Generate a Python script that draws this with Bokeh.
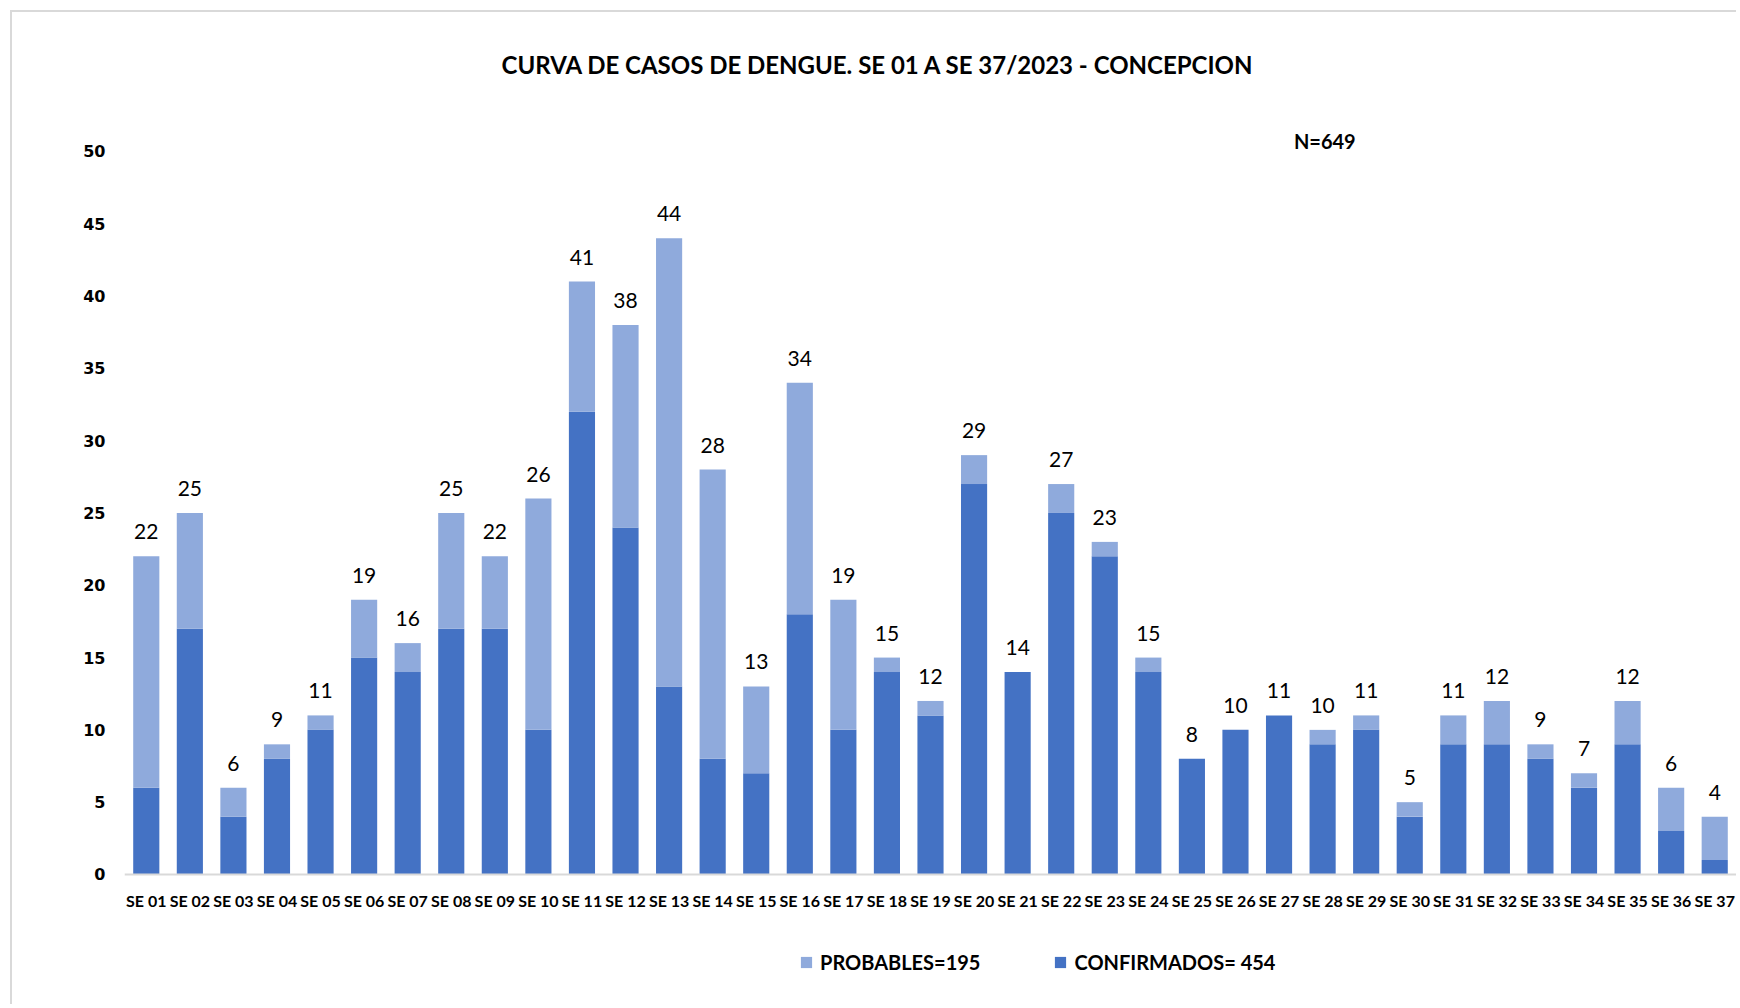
from bokeh.plotting import figure
from bokeh.models import (FactorRange, Range1d, Legend, LegendItem, Label,
                          ColumnDataSource, FixedTicker, Span)
from bokeh.core.properties import value
from bokeh.embed import file_html
from bokeh.resources import INLINE

weeks = ["SE 01", "SE 02", "SE 03", "SE 04", "SE 05", "SE 06", "SE 07", "SE 08",
         "SE 09", "SE 10", "SE 11", "SE 12", "SE 13", "SE 14", "SE 15", "SE 16",
         "SE 17", "SE 18", "SE 19", "SE 20", "SE 21", "SE 22", "SE 23", "SE 24",
         "SE 25", "SE 26", "SE 27", "SE 28", "SE 29", "SE 30", "SE 31", "SE 32",
         "SE 33", "SE 34", "SE 35", "SE 36", "SE 37"]
confirmados = [6, 17, 4, 8, 10, 15, 14, 17, 17, 10, 32, 24, 13, 8, 7, 18, 10, 14, 11,
               27, 14, 25, 22, 14, 8, 10, 11, 9, 10, 4, 9, 9, 8, 6, 9, 3, 1]
probables = [16, 8, 2, 1, 1, 4, 2, 8, 5, 16, 9, 14, 31, 20, 6, 16, 9, 1, 1,
             2, 0, 2, 1, 1, 0, 0, 0, 1, 1, 1, 2, 3, 1, 1, 3, 3, 3]
totales = [c + p for c, p in zip(confirmados, probables)]
y_ticks = [0, 5, 10, 15, 20, 25, 30, 35, 40, 45, 50]

TITLE = "CURVA DE CASOS DE DENGUE. SE 01 A SE 37/2023 - CONCEPCION"
N_TEXT = "N=649"
LEG_PROB = "PROBABLES=195"
LEG_CONF = "CONFIRMADOS= 454"

DARK = "#4472C4"
LIGHT = "#8FAADC"
GRAY = "#D9D9D9"

src = ColumnDataSource(dict(week=weeks, conf=confirmados, prob=probables,
                            total=totales, lab=[str(t) for t in totales],
                            zero=[0] * len(weeks)))

p = figure(x_range=FactorRange(*weeks), y_range=Range1d(-9.13, 59.61),
           width=1726, height=994, output_backend="svg", toolbar_location=None,
           x_axis_location=None, title=None,
           min_border_left=112, min_border_right=2, min_border_top=0,
           min_border_bottom=0)
p.styles = {"border-left": "2px solid " + GRAY, "border-top": "2px solid " + GRAY,
            "margin-left": "10px", "margin-top": "10px"}
p.outline_line_color = None
p.xgrid.grid_line_color = None
p.ygrid.grid_line_color = None

rs = p.vbar_stack(["conf", "prob"], x="week", width=0.6, color=[DARK, LIGHT],
                  source=src, line_color=None)

# x axis line and category labels
p.add_layout(Span(location=0, dimension="width", line_color=GRAY, line_width=2))
p.text(x="week", y="zero", text="week", source=src, text_align="center",
       text_baseline="top", y_offset=17, text_font=value("Lato"),
       text_font_style="bold", text_font_size="16px", text_color="#000000")

# data labels
p.text(x="week", y="total", text="lab", source=src, text_align="center",
       text_baseline="bottom", y_offset=-17, text_font=value("Lato"),
       text_font_size="21px", text_color="#000000")

# title and N
p.add_layout(Label(x=17.3, y=56.0, text=TITLE, text_align="center",
                   text_baseline="middle", text_font="Lato", text_font_style="bold",
                   text_font_size="24px", text_color="#000000"))
p.add_layout(Label(x=27.55, y=50.69, text=N_TEXT, text_align="center",
                   text_baseline="middle", text_font="Lato", text_font_style="bold",
                   text_font_size="20px", text_color="#000000"))

# y axis
p.yaxis.ticker = FixedTicker(ticks=y_ticks)
p.yaxis.axis_line_color = None
p.yaxis.major_tick_line_color = None
p.yaxis.minor_tick_line_color = None
p.yaxis.major_label_standoff = 13
p.yaxis.major_label_text_font = "DejaVu Sans"
p.yaxis.major_label_text_font_style = "bold"
p.yaxis.major_label_text_font_size = "16px"
p.yaxis.major_label_text_color = "#000000"

legend = Legend(items=[LegendItem(label=LEG_PROB, renderers=[rs[1]]),
                       LegendItem(label=LEG_CONF, renderers=[rs[0]])],
                orientation="horizontal", location=(675, 32),
                glyph_width=14, glyph_height=14, label_height=24,
                label_standoff=7, spacing=73,
                padding=0, margin=0, border_line_color=None,
                background_fill_alpha=0, label_text_font="Lato",
                label_text_font_style="bold", label_text_font_size="20px",
                label_text_color="#000000")
p.add_layout(legend, "center")

open("out.html", "w").write(file_html(p, INLINE))
